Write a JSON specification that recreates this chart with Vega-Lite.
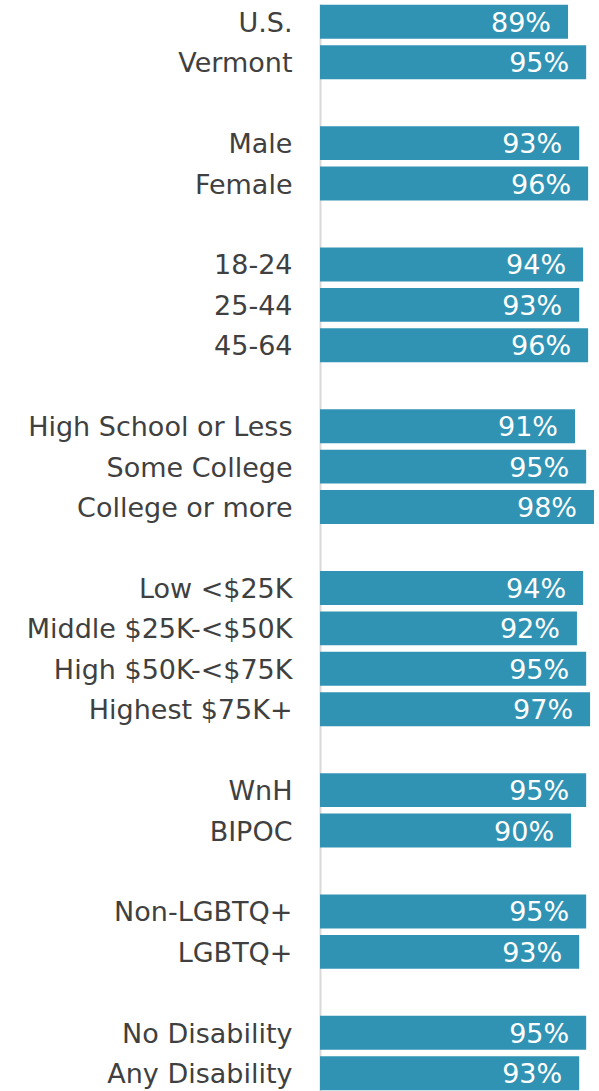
{
  "$schema": "https://vega.github.io/schema/vega-lite/v6.json",
  "width": 279,
  "height": 1087,
  "autosize": {"type": "none"},
  "padding": {"left": 320, "top": 4, "right": 0, "bottom": 0},
  "background": "white",
  "config": {"view": {"stroke": null}},
  "data": {"values": [
    {"label": "U.S.", "value": 0.889},
    {"label": "Vermont", "value": 0.954},
    {"label": "Male", "value": 0.929},
    {"label": "Female", "value": 0.961},
    {"label": "18-24", "value": 0.943},
    {"label": "25-44", "value": 0.929},
    {"label": "45-64", "value": 0.961},
    {"label": "High School or Less", "value": 0.914},
    {"label": "Some College", "value": 0.954},
    {"label": "College or more", "value": 0.982},
    {"label": "Low <$25K", "value": 0.943},
    {"label": "Middle $25K-<$50K", "value": 0.921},
    {"label": "High $50K-<$75K", "value": 0.954},
    {"label": "Highest $75K+", "value": 0.968},
    {"label": "WnH", "value": 0.954},
    {"label": "BIPOC", "value": 0.9},
    {"label": "Non-LGBTQ+", "value": 0.954},
    {"label": "LGBTQ+", "value": 0.929},
    {"label": "No Disability", "value": 0.954},
    {"label": "Any Disability", "value": 0.929}
  ]},
  "encoding": {
    "y": {
      "field": "label",
      "type": "nominal",
      "sort": null,
      "scale": {
        "domain": ["U.S.", "Vermont", " ", "Male", "Female", "  ", "18-24", "25-44", "45-64", "   ", "High School or Less", "Some College", "College or more", "    ", "Low <$25K", "Middle $25K-<$50K", "High $50K-<$75K", "Highest $75K+", "     ", "WnH", "BIPOC", "      ", "Non-LGBTQ+", "LGBTQ+", "       ", "No Disability", "Any Disability"],
        "paddingInner": 0.16,
        "paddingOuter": 0.02
      },
      "axis": {
        "title": null,
        "ticks": false,
        "labelPadding": 28,
        "labelOffset": 2,
        "labelFont": "DejaVu Sans",
        "labelFontSize": 27,
        "labelColor": "#404040",
        "labelLimit": 400,
        "domainColor": "#d9d9d9",
        "domainWidth": 2,
        "grid": false
      }
    },
    "x": {
      "field": "value",
      "type": "quantitative",
      "scale": {"domain": [0, 1], "nice": false},
      "axis": null
    }
  },
  "layer": [
    {"mark": {"type": "bar", "color": "#3193b4"}},
    {
      "mark": {"type": "text", "align": "right", "baseline": "middle", "dx": -17, "dy": 2, "color": "white", "font": "DejaVu Sans", "fontSize": 27},
      "encoding": {"text": {"field": "value", "type": "quantitative", "format": ".0%"}}
    }
  ]
}
